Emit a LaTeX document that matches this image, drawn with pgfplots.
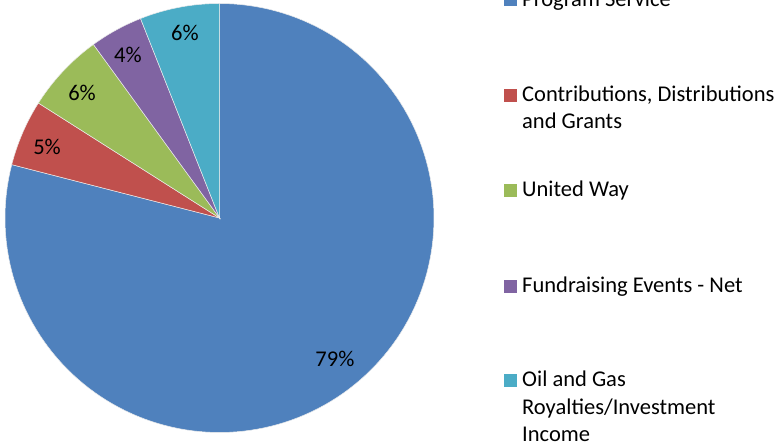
\documentclass[border=0pt]{standalone}
\usepackage{pgfplots}
\pgfplotsset{compat=1.18}
\usepackage{fontspec}
\setmainfont{Carlito}
\definecolor{cA}{HTML}{4F81BD}
\definecolor{cB}{HTML}{C0504D}
\definecolor{cC}{HTML}{9BBB59}
\definecolor{cD}{HTML}{8064A2}
\definecolor{cE}{HTML}{4BACC6}
% shares in percent
\def\pA{79}\def\pB{5}\def\pC{6}\def\pD{4}\def\pE{6}
\pgfmathsetmacro\aO{90}
\pgfmathsetmacro\aA{\aO-3.6*\pA}
\pgfmathsetmacro\aB{\aA-3.6*\pB}
\pgfmathsetmacro\aC{\aB-3.6*\pC}
\pgfmathsetmacro\aD{\aC-3.6*\pD}
\pgfmathsetmacro\aE{\aD-3.6*\pE}
\begin{document}
\begin{tikzpicture}[x=1bp,y=1bp]
\useasboundingbox (0,0) rectangle (784,448);
\begin{axis}[
  scale only axis, width=429bp, height=429bp,
  hide axis, clip=false,
  xmin=-1, xmax=1, ymin=-1, ymax=1,
  at={(219.5bp,230bp)}, anchor=center,
  every axis plot/.append style={draw=white!85!gray, line width=0.5pt, samples=150, variable=\t},
]
\addplot[fill=cA, domain=\aA:\aO] ({cos(\t)},{sin(\t)}) -- (axis cs:0,0) -- cycle;
\addplot[fill=cB, domain=\aB:\aA] ({cos(\t)},{sin(\t)}) -- (axis cs:0,0) -- cycle;
\addplot[fill=cC, domain=\aC:\aB] ({cos(\t)},{sin(\t)}) -- (axis cs:0,0) -- cycle;
\addplot[fill=cD, domain=\aD:\aC] ({cos(\t)},{sin(\t)}) -- (axis cs:0,0) -- cycle;
\addplot[fill=cE, domain=\aE:\aD] ({cos(\t)},{sin(\t)}) -- (axis cs:0,0) -- cycle;
\begin{scope}[every node/.style={font=\fontsize{22.6}{24}\selectfont, inner sep=0pt}]
\node at (axis cs:0.538,-0.657) {79\%};
\node at (axis cs:-0.804,0.331) {5\%};
\node at (axis cs:-0.641,0.583) {6\%};
\node at (axis cs:-0.427,0.760) {4\%};
\node at (axis cs:-0.161,0.862) {6\%};
\end{scope}
\end{axis}
\begin{scope}[every node/.style={font=\fontsize{22.6}{27}\selectfont, inner sep=0pt, anchor=base west}]
\fill[cA] (504,448-6.5) rectangle ++(13,13);
\node at (522,448-6.5) {Program Service};
\fill[cB] (504,448-102) rectangle ++(13,13);
\node at (522,448-102) {Contributions, Distributions};
\node at (522,448-129) {and Grants};
\fill[cC] (504,448-197) rectangle ++(13,13);
\node at (522,448-197) {United Way};
\fill[cD] (504,448-293) rectangle ++(13,13);
\node at (522,448-293) {Fundraising Events - Net};
\fill[cE] (504,448-387) rectangle ++(13,13);
\node at (522,448-387) {Oil and Gas};
\node at (522,448-414.5) {Royalties/Investment};
\node at (522,448-442) {Income};
\end{scope}
\end{tikzpicture}
\end{document}
